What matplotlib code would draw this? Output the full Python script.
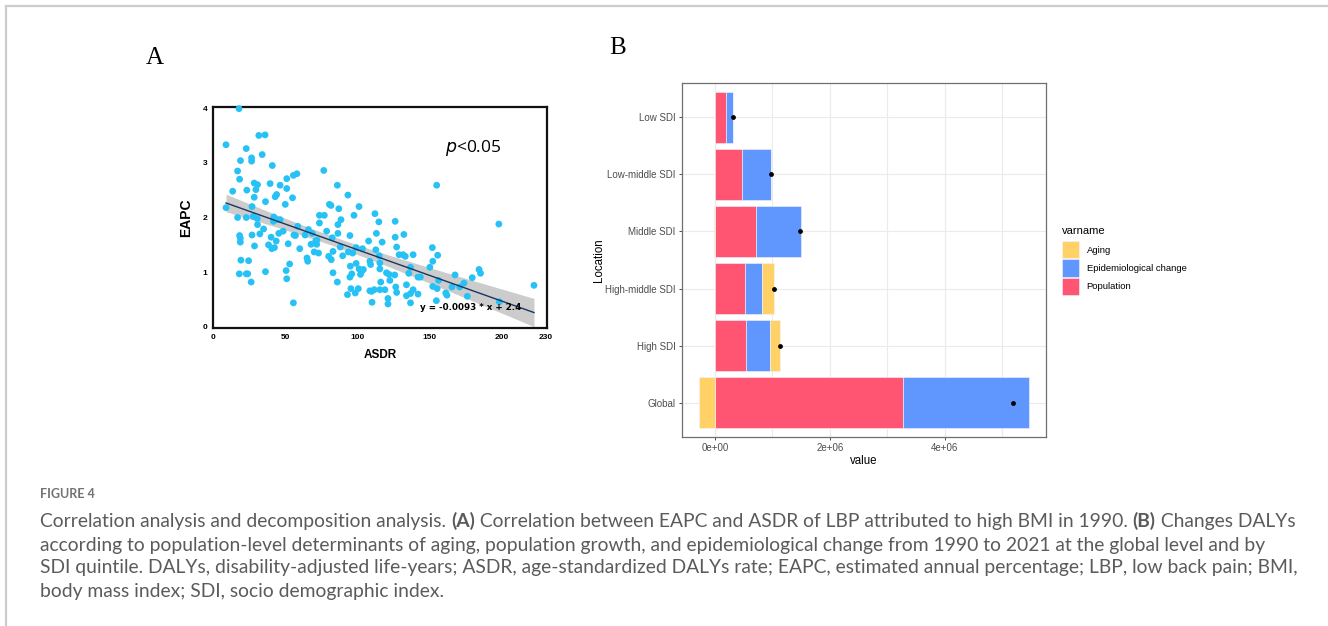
"""
Figure 4: EAPC vs ASDR correlation (A) and decomposition of DALY change (B).
"""
import matplotlib
matplotlib.use("Agg")
import matplotlib.pyplot as plt
import numpy as np
from matplotlib.lines import Line2D
from matplotlib.patches import Patch

W, H = 1328, 626

# ---- panel A data ----
asdr = [18, 9, 9, 13.6, 23, 31.7, 36, 34, 19, 26.7, 26.7, 17, 18.4, 23.4, 28.5, 30.8,
        29.7, 28.5, 41, 39.5, 36.3, 46.4, 44, 43, 51, 51, 55.6, 58, 55, 50, 27, 27.8,
        30.6, 23, 17, 18.4, 18.9, 18.9, 27, 30.8, 32.4, 35, 28.7, 19.3, 24.6, 18.2,
        23, 24, 26.4, 36.3, 42, 44, 41.8, 46.4, 45.5, 43.7, 40.7, 42.5, 38.4, 40.2,
        48.5, 52, 50.6, 51, 53, 56, 57, 58.6, 55.6, 60, 63.7, 65, 65.5, 66, 67.8,
        68.7, 70, 71, 71.7, 73, 71.9, 73.6, 73.6, 77, 76.6, 78.6, 80.5, 81.6, 82.5,
        80, 81.8, 83, 83, 86, 87, 86.4, 88.5, 86.4, 88, 89.7, 86, 93.3, 97.5, 101,
        94.7, 93.6, 96.6, 95, 96, 94.7, 95.4, 93, 98.4, 100.5, 99, 99, 101, 102, 103,
        104, 103.4, 107.6, 108.5, 109, 109.7, 110, 111.5, 108.5, 112, 112.6, 113,
        114.7, 115, 115.4, 115.4, 116, 117, 115.4, 118.9, 120, 121.8, 122.3, 121, 121,
        126, 126, 127, 128.7, 125.7, 126.4, 127, 132, 131.5, 133, 133.8, 133.8, 135.4,
        136.6, 136.6, 136.6, 138.4, 138.4, 141.8, 141.8, 143.4, 150, 151.7, 152, 152,
        154.7, 155.4, 155, 154.5, 156, 161, 161.8, 165.3, 167.4, 170.6, 173.6, 175.9,
        179.3, 184, 185, 197.7, 198, 222]
eapc = [3.99, 3.33, 2.18, 2.48, 3.26, 3.5, 3.51, 3.15, 3.04, 3.09, 3.03, 2.85, 2.7,
        2.5, 2.63, 2.6, 2.51, 2.37, 2.95, 2.62, 2.29, 2.59, 2.42, 2.38, 2.71, 2.53,
        2.77, 2.8, 2.36, 2.24, 2.2, 2.02, 1.98, 2.0, 2.0, 1.67, 1.55, 1.62, 1.68, 1.87,
        1.7, 1.79, 1.48, 1.22, 1.21, 0.97, 0.97, 0.97, 0.82, 1.01, 2.01, 1.96, 1.93,
        1.96, 1.71, 1.57, 1.43, 1.45, 1.5, 1.64, 1.75, 1.52, 1.03, 0.88, 1.15, 1.68,
        1.67, 1.84, 0.44, 1.43, 1.68, 1.26, 1.2, 1.78, 1.51, 1.71, 1.37, 1.57, 1.51,
        1.35, 1.59, 1.9, 2.04, 2.04, 2.86, 1.75, 2.24, 2.22, 1.63, 1.29, 1.23, 1.38,
        0.99, 2.59, 2.16, 1.87, 1.96, 1.71, 1.46, 1.3, 0.82, 2.41, 2.04, 2.2, 1.67,
        1.37, 1.35, 1.11, 0.97, 0.91, 0.7, 0.59, 0.62, 0.7, 1.45, 1.16, 1.06, 0.96,
        1.02, 1.05, 1.43, 1.57, 1.2, 1.14, 0.65, 0.45, 0.68, 0.66, 2.07, 1.41, 1.71,
        1.92, 1.3, 1.17, 1.06, 0.82, 1.55, 0.68, 0.68, 0.99, 0.96, 0.85, 0.52, 0.42,
        1.93, 1.64, 1.46, 1.32, 0.95, 0.73, 0.63, 1.69, 1.32, 1.29, 0.77, 0.57, 0.98,
        1.09, 0.61, 0.44, 1.32, 0.68, 0.91, 0.6, 0.91, 1.09, 1.45, 1.2, 0.74, 2.59,
        1.31, 0.7, 0.48, 0.85, 0.62, 0.58, 0.73, 0.95, 0.73, 0.8, 0.56, 0.9, 1.05,
        0.98, 1.88, 0.46, 0.76]

# ---- panel B data (DALY change, decomposition) ----
locations = ["Global", "High SDI", "High-middle SDI", "Middle SDI",
             "Low-middle SDI", "Low SDI"]
population = [3.28e6, 0.542e6, 0.53e6, 0.71e6, 0.478e6, 0.186e6]
epi_change = [2.195e6, 0.425e6, 0.285e6, 0.785e6, 0.50e6, 0.128e6]
aging = [-0.285e6, 0.169e6, 0.205e6, -0.01e6, 0.004e6, 0.004e6]

col_aging = "#FFD166"
col_epi = "#6097FF"
col_pop = "#FF5572"

plt.rcParams["font.family"] = ["Liberation Sans", "DejaVu Sans"]


def box(l, t, r, b):
    return [l / W, 1 - b / H, (r - l) / W, (b - t) / H]


fig = plt.figure(figsize=(W / 100, H / 100), dpi=100)

# outer page border
fig.add_artist(Line2D([6 / W, 1], [1 - 6 / H, 1 - 6 / H], color="#cccccc", lw=1.6))
fig.add_artist(Line2D([6 / W, 6 / W], [0, 1 - 6 / H], color="#cccccc", lw=1.6))

# ================= Panel A =================
axA = fig.add_axes(box(213, 107, 547, 328))
x = np.array(asdr)
y = np.array(eapc)
axA.scatter(x, y, s=24, color="#27C2F5", edgecolors="none", zorder=3, clip_on=False)

# linear fit with 95% CI band
slope, intercept = np.polyfit(x, y, 1)
n = len(x)
resid = y - (slope * x + intercept)
s = np.sqrt(np.sum(resid ** 2) / (n - 2))
xs = np.linspace(x.min(), x.max(), 100)
se = s * np.sqrt(1 / n + (xs - x.mean()) ** 2 / np.sum((x - x.mean()) ** 2))
yfit = slope * xs + intercept
axA.fill_between(xs, yfit - 1.97 * se, yfit + 1.97 * se, color="#c4c4c4",
                 alpha=0.85, lw=0, zorder=2)
axA.plot(xs, yfit, color="#1d3461", lw=1.0, zorder=4)

axA.set_xlim(0, 231)
axA.set_ylim(-0.02, 4.02)
axA.set_xticks([0, 50, 100, 150, 200, 230])
axA.set_yticks([0, 1, 2, 3, 4])
axA.tick_params(length=0, labelsize=6, pad=4)
for lab in axA.get_xticklabels() + axA.get_yticklabels():
    lab.set_fontweight("bold")
for sp in axA.spines.values():
    sp.set_linewidth(1.6)
    sp.set_color("#111111")
axA.set_xlabel("ASDR", fontsize=8.5, fontweight="bold", labelpad=6)
axA.set_ylabel("EAPC", fontsize=10, fontweight="bold", labelpad=7)
axA.text(0.695, 0.815, r"$\it{p}$<0.05", transform=axA.transAxes, fontsize=12.5,
         family="Open Sans", va="center")
axA.text(0.62, 0.094, "y = -0.0093 * x + 2.4", transform=axA.transAxes,
         fontsize=6.3, fontweight="bold", family="DejaVu Sans", va="center", zorder=5)

fig.text(155 / W, 1 - 58 / H, "A", family="Liberation Serif", fontsize=18,
         ha="center", va="center")

# ================= Panel B =================
axB = fig.add_axes(box(682, 83, 1046, 437))
ypos = np.arange(1, len(locations) + 1)
pos_left = np.zeros(len(locations))
neg_left = np.zeros(len(locations))
for vals, col in [(population, col_pop), (epi_change, col_epi), (aging, col_aging)]:
    v = np.array(vals)
    left = np.where(v >= 0, pos_left, neg_left)
    axB.barh(ypos, v, left=left, height=0.9, color=col, edgecolor="#f4f4ff",
             lw=0.4, zorder=2)
    pos_left += np.where(v >= 0, v, 0)
    neg_left += np.where(v < 0, v, 0)

total = np.array(population) + np.array(epi_change) + np.array(aging)
axB.scatter(total, ypos, s=6, color="black", zorder=3)

lo = min(neg_left.min(), 0)
hi = pos_left.max()
pad = 0.05 * (hi - lo)
axB.set_xlim(lo - pad, hi + pad)
axB.set_ylim(0.4, len(locations) + 0.6)
axB.set_yticks(ypos)
axB.set_yticklabels(locations)
axB.set_xticks([0, 2e6, 4e6])
axB.set_xticks([1e6, 3e6, 5e6], minor=True)
axB.xaxis.set_major_formatter(plt.FuncFormatter(lambda v, p: f"{v:.0e}"))
axB.grid(True, which="both", axis="x", color="#ebebeb", lw=0.8, zorder=0)
axB.grid(True, which="major", axis="y", color="#ebebeb", lw=0.8, zorder=0)
axB.set_axisbelow(True)
axB.tick_params(axis="both", which="major", labelsize=7, labelcolor="#4d4d4d",
                color="#333333", length=2.5, width=0.6, pad=2)
axB.tick_params(axis="x", which="minor", length=0)
for sp in axB.spines.values():
    sp.set_color("#6f6f6f")
    sp.set_linewidth(0.9)
axB.set_xlabel("value", fontsize=8.3, labelpad=1)
axB.set_ylabel("Location", fontsize=8.3, labelpad=0)

# legend: title as separate text, keys below
fig.text(1062 / W, 1 - 231 / H, "varname", fontsize=8, va="center")
handles = [Patch(facecolor=col_aging, edgecolor="#f4f4ff", lw=0.4, label="Aging"),
           Patch(facecolor=col_epi, edgecolor="#f4f4ff", lw=0.4, label="Epidemiological change"),
           Patch(facecolor=col_pop, edgecolor="#f4f4ff", lw=0.4, label="Population")]
fig.legend(handles=handles, loc="upper left",
           bbox_to_anchor=(1062 / W, 1 - 241 / H), frameon=False, fontsize=6.8,
           handlelength=1.8, handleheight=2.45, labelspacing=0.1,
           handletextpad=0.8, borderpad=0, borderaxespad=0)

fig.text(618 / W, 1 - 48 / H, "B", family="Liberation Serif", fontsize=18,
         ha="center", va="center")

# ================= Caption =================
cap_font = ["Lato", "DejaVu Sans"]
cap_color = "#5b5b5b"
fig.text(40 / W, 1 - 494 / H, "FIGURE 4", family=cap_font, fontsize=9,
         fontweight="bold", color="#737373", va="center")

cap_lines = [
    [("Correlation analysis and decomposition analysis. ", "normal"), ("(A)", "bold"),
     (" Correlation between EAPC and ASDR of LBP attributed to high BMI in 1990. ", "normal"),
     ("(B)", "bold"), (" Changes DALYs", "normal")],
    [("according to population-level determinants of aging, population growth, and "
      "epidemiological change from 1990 to 2021 at the global level and by", "normal")],
    [("SDI quintile. DALYs, disability-adjusted life-years; ASDR, age-standardized DALYs "
      "rate; EAPC, estimated annual percentage; LBP, low back pain; BMI,", "normal")],
    [("body mass index; SDI, socio demographic index.", "normal")],
]
cap_y = [521, 545, 568, 592]

renderer = fig.canvas.get_renderer()


def text_width(txt, size, weight):
    # measure with sentinels so leading/trailing spaces count
    t = fig.text(0, 0, "|" + txt + "|", family=cap_font, fontsize=size, fontweight=weight)
    t2 = fig.text(0, 0, "||", family=cap_font, fontsize=size, fontweight=weight)
    w = t.get_window_extent(renderer).width - t2.get_window_extent(renderer).width
    t.remove()
    t2.remove()
    return w


# pick a font size so the first line spans like the reference
base = 12.0
line1_w = sum(text_width(txt, base, wt) for txt, wt in cap_lines[0])
cap_size = base * 1250 / line1_w

for segs, yy in zip(cap_lines, cap_y):
    xx = 40.0
    for txt, weight in segs:
        fig.text(xx / W, 1 - yy / H, txt, family=cap_font, fontsize=cap_size,
                 fontweight=weight, color=cap_color, va="center")
        xx += text_width(txt, cap_size, weight)

fig.savefig("out.png", dpi=100)
